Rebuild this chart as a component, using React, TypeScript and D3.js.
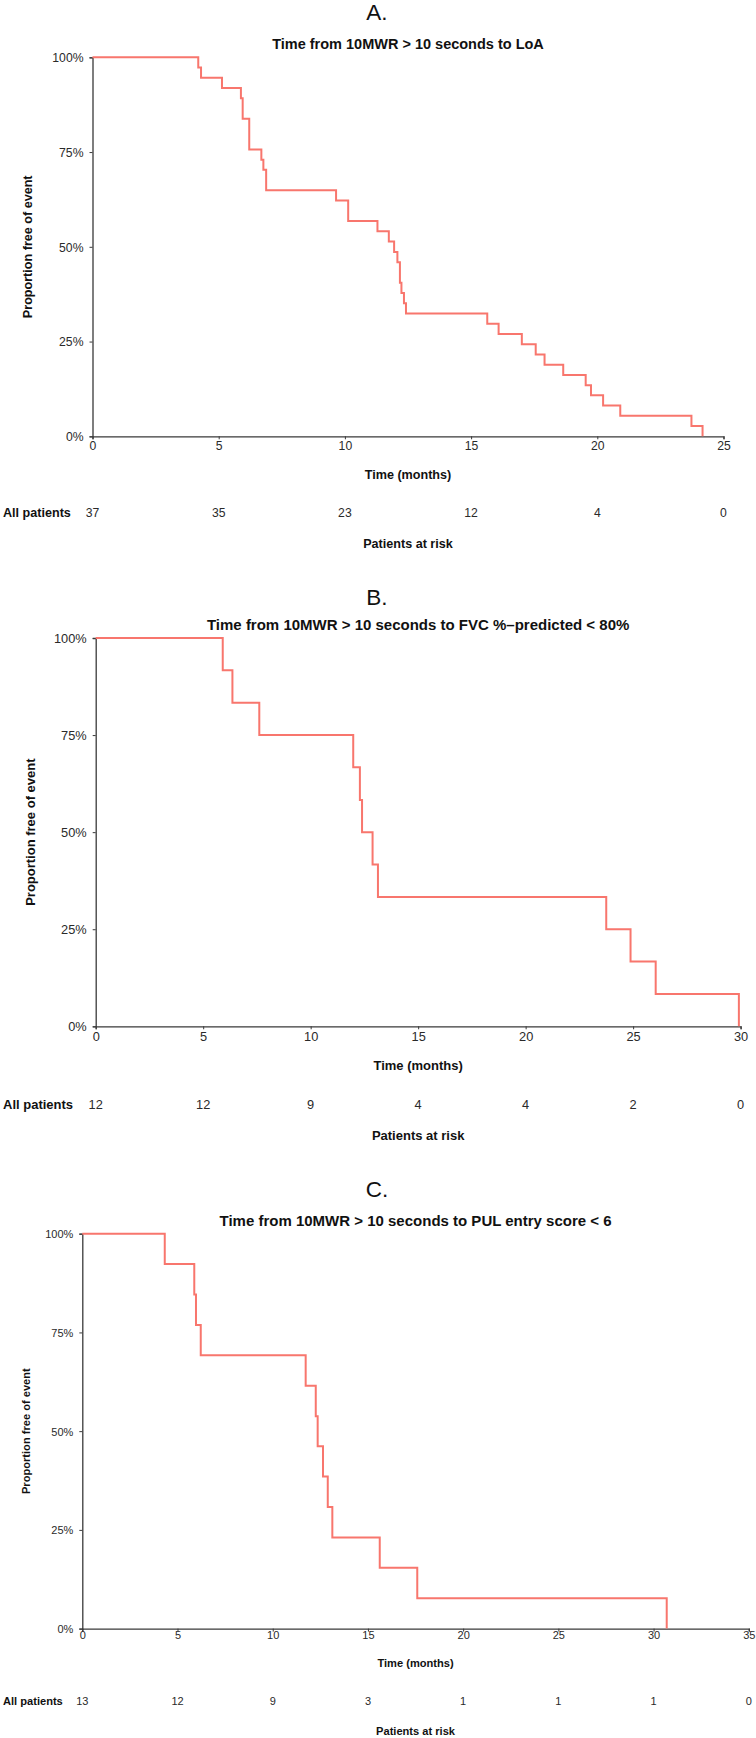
import React, { useRef, useEffect } from 'react';
import * as d3 from 'd3';

// panel A: time from 10MWR > 10 s to LoA (n = 37)
const timesA = [4.19, 4.3, 5.13, 5.88, 5.95, 6.21, 6.69, 6.77, 6.88, 9.65, 10.13, 11.29, 11.74, 11.95, 12.08, 12.18, 12.24, 12.34, 12.42, 15.64, 16.09, 17.01, 17.56, 17.91, 18.65, 19.54, 19.75, 20.23, 20.91, 23.73, 24.17];
const survA = [97.3, 94.6, 91.9, 89.2, 83.8, 75.7, 73.0, 70.3, 64.9, 62.2, 56.8, 54.1, 51.4, 48.6, 45.9, 40.5, 37.8, 35.1, 32.4, 29.7, 27.0, 24.3, 21.6, 18.9, 16.2, 13.5, 10.8, 8.1, 5.4, 2.7, 0];
const ticksA = [0, 5, 10, 15, 20, 25];
const riskA = [37, 35, 23, 12, 4, 0];

// panel B: time to FVC %-predicted < 80% (n = 12)
const timesB = [5.91, 6.36, 7.61, 11.98, 12.29, 12.39, 12.88, 13.13, 23.75, 24.88, 26.05, 29.92];
const survB = [91.7, 83.3, 75.0, 66.7, 58.3, 50.0, 41.7, 33.3, 25.0, 16.7, 8.3, 0];
const ticksB = [0, 5, 10, 15, 20, 25, 30];
const riskB = [12, 12, 9, 4, 4, 2, 0];

// panel C: time to PUL entry score < 6 (n = 13)
const timesC = [4.33, 5.88, 5.97, 6.22, 11.73, 12.26, 12.36, 12.64, 12.89, 13.13, 15.62, 17.59, 30.69];
const survC = [92.3, 84.6, 76.9, 69.2, 61.5, 53.8, 46.2, 38.5, 30.8, 23.1, 15.4, 7.7, 0];
const ticksC = [0, 5, 10, 15, 20, 25, 30, 35];
const riskC = [13, 12, 9, 3, 1, 1, 1, 0];

const yTicks = [0, 25, 50, 75, 100];
const letters = ['A.', 'B.', 'C.'];
const titles = [
  'Time from 10MWR > 10 seconds to LoA',
  'Time from 10MWR > 10 seconds to FVC %\u2013predicted < 80%',
  'Time from 10MWR > 10 seconds to PUL entry score < 6',
];

const FONT = '"Liberation Sans", Arial, Helvetica, sans-serif';
const CURVE = '#F8766D';
const AXIS = '#3a3a3a';

const panels = [
  { times: timesA, surv: survA, ticks: ticksA, risk: riskA, left: 92.5, right: 723.5, top: 57.3, bottom: 436.3, letterY: 19.5, titleY: 49.3, titleFs: 14.5, labelFs: 12.6, tickFs: 12.2, ylabX: 28, tickOff: 14.5, timeY: 478.5, riskY: 517, atRiskY: 547.5 },
  { times: timesB, surv: survB, ticks: ticksB, risk: riskB, left: 95.7, right: 740.6, top: 638, bottom: 1026.3, letterY: 605, titleY: 630, titleFs: 15, labelFs: 13, tickFs: 12.8, ylabX: 30.7, tickOff: 15, timeY: 1070.3, riskY: 1108.8, atRiskY: 1139.5 },
  { times: timesC, surv: survC, ticks: ticksC, risk: riskC, left: 82.3, right: 748.8, top: 1233.7, bottom: 1628.6, letterY: 1197, titleY: 1226, titleFs: 15, labelFs: 11.1, tickFs: 11, ylabX: 26, tickOff: 12, timeY: 1666.7, riskY: 1705, atRiskY: 1735 },
];

const App: React.FC = () => {
  const ref = useRef<SVGSVGElement | null>(null);

  useEffect(() => {
    const svg = d3.select(ref.current);
    svg.selectAll('*').remove();

    panels.forEach((p, i) => {
      const g = svg.append('g').attr('font-family', FONT);
      const x = d3.scaleLinear().domain([0, p.ticks[p.ticks.length - 1]]).range([p.left, p.right]);
      const y = d3.scaleLinear().domain([0, 100]).range([p.bottom, p.top]);
      const cx = (p.left + p.right) / 2;

      g.append('text')
        .attr('x', 377).attr('y', p.letterY)
        .attr('text-anchor', 'middle')
        .attr('font-size', 22.5).attr('fill', '#111')
        .text(letters[i]);

      g.append('text')
        .attr('x', cx).attr('y', p.titleY)
        .attr('text-anchor', 'middle')
        .attr('font-size', p.titleFs).attr('font-weight', 'bold').attr('fill', '#111')
        .text(titles[i]);

      // axes
      const xAxis = d3.axisBottom(x).tickValues(p.ticks).tickSize(3).tickFormat(d3.format('d'));
      const gx = g.append('g').attr('transform', `translate(0,${p.bottom})`).call(xAxis);
      const yAxis = d3.axisLeft(y).tickValues(yTicks).tickSize(3).tickFormat((d) => `${d}%`);
      const gy = g.append('g').attr('transform', `translate(${p.left},0)`).call(yAxis);
      [gx, gy].forEach((ax) => {
        ax.select('.domain').attr('stroke', AXIS).attr('stroke-width', 1.3);
        ax.selectAll('.tick line').attr('stroke', AXIS);
        ax.selectAll('.tick text')
          .attr('font-family', FONT).attr('font-size', p.tickFs).attr('fill', '#2a2a2a');
      });
      gx.selectAll('.tick text').attr('y', p.tickOff - 9).attr('dy', '0.71em');
      gy.selectAll('.tick text').attr('x', -9).attr('dy', '0.35em');

      // survival curve
      const pts: [number, number][] = [[0, 100], ...p.times.map((t, k) => [t, p.surv[k]] as [number, number])];
      const line = d3.line<[number, number]>()
        .x((d) => x(d[0]))
        .y((d) => y(d[1]))
        .curve(d3.curveStepAfter);
      g.append('path')
        .datum(pts)
        .attr('fill', 'none')
        .attr('stroke', CURVE)
        .attr('stroke-width', 2)
        .attr('d', line as any);

      g.append('text')
        .attr('transform', `translate(${p.ylabX},${y(50)}) rotate(-90)`)
        .attr('text-anchor', 'middle').attr('dy', '0.35em')
        .attr('font-size', p.labelFs).attr('font-weight', 'bold').attr('fill', '#111')
        .text('Proportion free of event');

      g.append('text')
        .attr('x', cx).attr('y', p.timeY)
        .attr('text-anchor', 'middle')
        .attr('font-size', p.labelFs).attr('font-weight', 'bold').attr('fill', '#111')
        .text('Time (months)');

      g.append('text')
        .attr('x', 3).attr('y', p.riskY)
        .attr('font-size', p.labelFs).attr('font-weight', 'bold').attr('fill', '#111')
        .text('All patients');

      g.selectAll('.risk')
        .data(p.risk)
        .enter()
        .append('text')
        .attr('x', (_d, k) => x(p.ticks[k]))
        .attr('y', p.riskY)
        .attr('text-anchor', 'middle')
        .attr('font-size', p.tickFs).attr('fill', '#2a2a2a')
        .text((d) => d);

      g.append('text')
        .attr('x', cx).attr('y', p.atRiskY)
        .attr('text-anchor', 'middle')
        .attr('font-size', p.labelFs).attr('font-weight', 'bold').attr('fill', '#111')
        .text('Patients at risk');
    });
  }, []);

  return (
    <svg
      ref={ref}
      width={756}
      height={1738}
      style={{ position: 'absolute', left: 0, top: 0, background: '#fff' }}
    />
  );
};

export default App;
